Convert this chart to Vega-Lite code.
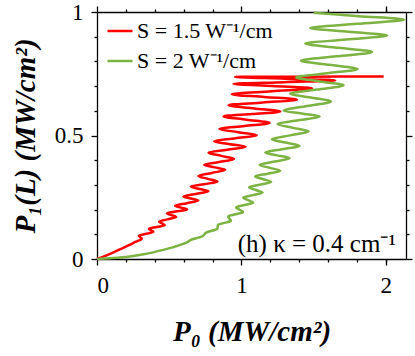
{
  "$schema": "https://vega.github.io/schema/vega-lite/v6.json",
  "width": 309,
  "height": 247,
  "autosize": {"type": "none"},
  "padding": {"left": 97, "top": 12, "right": 9, "bottom": 97},
  "background": "white",
  "config": {
    "view": {"stroke": null},
    "axis": {"domainColor": "black", "domainWidth": 1.3, "tickColor": "black", "tickWidth": 1.3, "grid": false,
             "labelFont": "Liberation Serif", "labelFontSize": 23, "labelColor": "black",
             "titleFont": "Liberation Serif", "titleFontSize": 29, "titleColor": "black", "titleFontWeight": "bold", "titleFontStyle": "italic"}
  },
  "datasets": {
    "curves": [
      {"series": "S = 1.5 W⁻¹/cm", "i": 0, "x": 0, "y": 0},
      {"series": "S = 1.5 W⁻¹/cm", "i": 1, "x": 0.062, "y": 0.014},
      {"series": "S = 1.5 W⁻¹/cm", "i": 2, "x": 0.125, "y": 0.030},
      {"series": "S = 1.5 W⁻¹/cm", "i": 3, "x": 0.175, "y": 0.043},
      {"series": "S = 1.5 W⁻¹/cm", "i": 4, "x": 0.225, "y": 0.057},
      {"series": "S = 1.5 W⁻¹/cm", "i": 5, "x": 0.265, "y": 0.069},
      {"series": "S = 1.5 W⁻¹/cm", "i": 6, "x": 0.310, "y": 0.082},
      {"series": "S = 1.5 W⁻¹/cm", "i": 7, "x": 0.300, "y": 0.088},
      {"series": "S = 1.5 W⁻¹/cm", "i": 8, "x": 0.290, "y": 0.094},
      {"series": "S = 1.5 W⁻¹/cm", "i": 9, "x": 0.340, "y": 0.102},
      {"series": "S = 1.5 W⁻¹/cm", "i": 10, "x": 0.390, "y": 0.110},
      {"series": "S = 1.5 W⁻¹/cm", "i": 11, "x": 0.375, "y": 0.116},
      {"series": "S = 1.5 W⁻¹/cm", "i": 12, "x": 0.360, "y": 0.122},
      {"series": "S = 1.5 W⁻¹/cm", "i": 13, "x": 0.415, "y": 0.1295},
      {"series": "S = 1.5 W⁻¹/cm", "i": 14, "x": 0.470, "y": 0.137},
      {"series": "S = 1.5 W⁻¹/cm", "i": 15, "x": 0.450, "y": 0.144},
      {"series": "S = 1.5 W⁻¹/cm", "i": 16, "x": 0.430, "y": 0.151},
      {"series": "S = 1.5 W⁻¹/cm", "i": 17, "x": 0.489, "y": 0.1605},
      {"series": "S = 1.5 W⁻¹/cm", "i": 18, "x": 0.548, "y": 0.170},
      {"series": "S = 1.5 W⁻¹/cm", "i": 19, "x": 0.5165, "y": 0.1775},
      {"series": "S = 1.5 W⁻¹/cm", "i": 20, "x": 0.485, "y": 0.185},
      {"series": "S = 1.5 W⁻¹/cm", "i": 21, "x": 0.5545, "y": 0.193},
      {"series": "S = 1.5 W⁻¹/cm", "i": 22, "x": 0.624, "y": 0.201},
      {"series": "S = 1.5 W⁻¹/cm", "i": 23, "x": 0.5825, "y": 0.208},
      {"series": "S = 1.5 W⁻¹/cm", "i": 24, "x": 0.541, "y": 0.215},
      {"series": "S = 1.5 W⁻¹/cm", "i": 25, "x": 0.6215, "y": 0.226},
      {"series": "S = 1.5 W⁻¹/cm", "i": 26, "x": 0.702, "y": 0.237},
      {"series": "S = 1.5 W⁻¹/cm", "i": 27, "x": 0.650, "y": 0.245},
      {"series": "S = 1.5 W⁻¹/cm", "i": 28, "x": 0.598, "y": 0.253},
      {"series": "S = 1.5 W⁻¹/cm", "i": 29, "x": 0.685, "y": 0.2635},
      {"series": "S = 1.5 W⁻¹/cm", "i": 30, "x": 0.772, "y": 0.274},
      {"series": "S = 1.5 W⁻¹/cm", "i": 31, "x": 0.711, "y": 0.2835},
      {"series": "S = 1.5 W⁻¹/cm", "i": 32, "x": 0.650, "y": 0.293},
      {"series": "S = 1.5 W⁻¹/cm", "i": 33, "x": 0.742, "y": 0.303},
      {"series": "S = 1.5 W⁻¹/cm", "i": 34, "x": 0.834, "y": 0.313},
      {"series": "S = 1.5 W⁻¹/cm", "i": 35, "x": 0.768, "y": 0.3245},
      {"series": "S = 1.5 W⁻¹/cm", "i": 36, "x": 0.702, "y": 0.336},
      {"series": "S = 1.5 W⁻¹/cm", "i": 37, "x": 0.795, "y": 0.3485},
      {"series": "S = 1.5 W⁻¹/cm", "i": 38, "x": 0.888, "y": 0.361},
      {"series": "S = 1.5 W⁻¹/cm", "i": 39, "x": 0.815, "y": 0.371},
      {"series": "S = 1.5 W⁻¹/cm", "i": 40, "x": 0.742, "y": 0.381},
      {"series": "S = 1.5 W⁻¹/cm", "i": 41, "x": 0.846, "y": 0.393},
      {"series": "S = 1.5 W⁻¹/cm", "i": 42, "x": 0.950, "y": 0.405},
      {"series": "S = 1.5 W⁻¹/cm", "i": 43, "x": 0.861, "y": 0.4175},
      {"series": "S = 1.5 W⁻¹/cm", "i": 44, "x": 0.772, "y": 0.430},
      {"series": "S = 1.5 W⁻¹/cm", "i": 45, "x": 0.901, "y": 0.442},
      {"series": "S = 1.5 W⁻¹/cm", "i": 46, "x": 1.030, "y": 0.454},
      {"series": "S = 1.5 W⁻¹/cm", "i": 47, "x": 0.9205, "y": 0.465},
      {"series": "S = 1.5 W⁻¹/cm", "i": 48, "x": 0.811, "y": 0.476},
      {"series": "S = 1.5 W⁻¹/cm", "i": 49, "x": 0.959, "y": 0.4885},
      {"series": "S = 1.5 W⁻¹/cm", "i": 50, "x": 1.107, "y": 0.501},
      {"series": "S = 1.5 W⁻¹/cm", "i": 51, "x": 0.9775, "y": 0.5135},
      {"series": "S = 1.5 W⁻¹/cm", "i": 52, "x": 0.848, "y": 0.526},
      {"series": "S = 1.5 W⁻¹/cm", "i": 53, "x": 1.0215, "y": 0.5385},
      {"series": "S = 1.5 W⁻¹/cm", "i": 54, "x": 1.195, "y": 0.551},
      {"series": "S = 1.5 W⁻¹/cm", "i": 55, "x": 1.0355, "y": 0.564},
      {"series": "S = 1.5 W⁻¹/cm", "i": 56, "x": 0.876, "y": 0.577},
      {"series": "S = 1.5 W⁻¹/cm", "i": 57, "x": 1.0725, "y": 0.587},
      {"series": "S = 1.5 W⁻¹/cm", "i": 58, "x": 1.269, "y": 0.597},
      {"series": "S = 1.5 W⁻¹/cm", "i": 59, "x": 1.090, "y": 0.6095},
      {"series": "S = 1.5 W⁻¹/cm", "i": 60, "x": 0.911, "y": 0.622},
      {"series": "S = 1.5 W⁻¹/cm", "i": 61, "x": 1.148, "y": 0.6335},
      {"series": "S = 1.5 W⁻¹/cm", "i": 62, "x": 1.385, "y": 0.645},
      {"series": "S = 1.5 W⁻¹/cm", "i": 63, "x": 1.1595, "y": 0.656},
      {"series": "S = 1.5 W⁻¹/cm", "i": 64, "x": 0.934, "y": 0.667},
      {"series": "S = 1.5 W⁻¹/cm", "i": 65, "x": 1.2115, "y": 0.679},
      {"series": "S = 1.5 W⁻¹/cm", "i": 66, "x": 1.489, "y": 0.691},
      {"series": "S = 1.5 W⁻¹/cm", "i": 67, "x": 1.217, "y": 0.700},
      {"series": "S = 1.5 W⁻¹/cm", "i": 68, "x": 0.945, "y": 0.709},
      {"series": "S = 1.5 W⁻¹/cm", "i": 69, "x": 1.2975, "y": 0.716},
      {"series": "S = 1.5 W⁻¹/cm", "i": 70, "x": 1.650, "y": 0.723},
      {"series": "S = 1.5 W⁻¹/cm", "i": 71, "x": 1.3035, "y": 0.730},
      {"series": "S = 1.5 W⁻¹/cm", "i": 72, "x": 0.957, "y": 0.737},
      {"series": "S = 1.5 W⁻¹/cm", "i": 73, "x": 1.471, "y": 0.738},
      {"series": "S = 1.5 W⁻¹/cm", "i": 74, "x": 1.985, "y": 0.739},
      {"series": "S = 2 W⁻¹/cm", "i": 0, "x": 0, "y": 0},
      {"series": "S = 2 W⁻¹/cm", "i": 1, "x": 0.090, "y": 0.003},
      {"series": "S = 2 W⁻¹/cm", "i": 2, "x": 0.215, "y": 0.009},
      {"series": "S = 2 W⁻¹/cm", "i": 3, "x": 0.333, "y": 0.020},
      {"series": "S = 2 W⁻¹/cm", "i": 4, "x": 0.451, "y": 0.036},
      {"series": "S = 2 W⁻¹/cm", "i": 5, "x": 0.540, "y": 0.050},
      {"series": "S = 2 W⁻¹/cm", "i": 6, "x": 0.614, "y": 0.065},
      {"series": "S = 2 W⁻¹/cm", "i": 7, "x": 0.653, "y": 0.078},
      {"series": "S = 2 W⁻¹/cm", "i": 8, "x": 0.730, "y": 0.092},
      {"series": "S = 2 W⁻¹/cm", "i": 9, "x": 0.756, "y": 0.107},
      {"series": "S = 2 W⁻¹/cm", "i": 10, "x": 0.833, "y": 0.122},
      {"series": "S = 2 W⁻¹/cm", "i": 11, "x": 0.8355, "y": 0.130},
      {"series": "S = 2 W⁻¹/cm", "i": 12, "x": 0.838, "y": 0.138},
      {"series": "S = 2 W⁻¹/cm", "i": 13, "x": 0.8825, "y": 0.1465},
      {"series": "S = 2 W⁻¹/cm", "i": 14, "x": 0.927, "y": 0.155},
      {"series": "S = 2 W⁻¹/cm", "i": 15, "x": 0.9175, "y": 0.1635},
      {"series": "S = 2 W⁻¹/cm", "i": 16, "x": 0.908, "y": 0.172},
      {"series": "S = 2 W⁻¹/cm", "i": 17, "x": 0.960, "y": 0.181},
      {"series": "S = 2 W⁻¹/cm", "i": 18, "x": 1.012, "y": 0.190},
      {"series": "S = 2 W⁻¹/cm", "i": 19, "x": 0.9875, "y": 0.1995},
      {"series": "S = 2 W⁻¹/cm", "i": 20, "x": 0.963, "y": 0.209},
      {"series": "S = 2 W⁻¹/cm", "i": 21, "x": 1.0225, "y": 0.2185},
      {"series": "S = 2 W⁻¹/cm", "i": 22, "x": 1.082, "y": 0.228},
      {"series": "S = 2 W⁻¹/cm", "i": 23, "x": 1.0475, "y": 0.238},
      {"series": "S = 2 W⁻¹/cm", "i": 24, "x": 1.013, "y": 0.248},
      {"series": "S = 2 W⁻¹/cm", "i": 25, "x": 1.080, "y": 0.2585},
      {"series": "S = 2 W⁻¹/cm", "i": 26, "x": 1.147, "y": 0.269},
      {"series": "S = 2 W⁻¹/cm", "i": 27, "x": 1.100, "y": 0.2795},
      {"series": "S = 2 W⁻¹/cm", "i": 28, "x": 1.053, "y": 0.290},
      {"series": "S = 2 W⁻¹/cm", "i": 29, "x": 1.1295, "y": 0.301},
      {"series": "S = 2 W⁻¹/cm", "i": 30, "x": 1.206, "y": 0.312},
      {"series": "S = 2 W⁻¹/cm", "i": 31, "x": 1.1505, "y": 0.323},
      {"series": "S = 2 W⁻¹/cm", "i": 32, "x": 1.095, "y": 0.334},
      {"series": "S = 2 W⁻¹/cm", "i": 33, "x": 1.182, "y": 0.3455},
      {"series": "S = 2 W⁻¹/cm", "i": 34, "x": 1.269, "y": 0.357},
      {"series": "S = 2 W⁻¹/cm", "i": 35, "x": 1.1975, "y": 0.369},
      {"series": "S = 2 W⁻¹/cm", "i": 36, "x": 1.126, "y": 0.381},
      {"series": "S = 2 W⁻¹/cm", "i": 37, "x": 1.2295, "y": 0.3945},
      {"series": "S = 2 W⁻¹/cm", "i": 38, "x": 1.333, "y": 0.408},
      {"series": "S = 2 W⁻¹/cm", "i": 39, "x": 1.249, "y": 0.4195},
      {"series": "S = 2 W⁻¹/cm", "i": 40, "x": 1.165, "y": 0.431},
      {"series": "S = 2 W⁻¹/cm", "i": 41, "x": 1.284, "y": 0.4445},
      {"series": "S = 2 W⁻¹/cm", "i": 42, "x": 1.403, "y": 0.458},
      {"series": "S = 2 W⁻¹/cm", "i": 43, "x": 1.307, "y": 0.4715},
      {"series": "S = 2 W⁻¹/cm", "i": 44, "x": 1.211, "y": 0.485},
      {"series": "S = 2 W⁻¹/cm", "i": 45, "x": 1.338, "y": 0.5005},
      {"series": "S = 2 W⁻¹/cm", "i": 46, "x": 1.465, "y": 0.516},
      {"series": "S = 2 W⁻¹/cm", "i": 47, "x": 1.3575, "y": 0.531},
      {"series": "S = 2 W⁻¹/cm", "i": 48, "x": 1.250, "y": 0.546},
      {"series": "S = 2 W⁻¹/cm", "i": 49, "x": 1.396, "y": 0.5615},
      {"series": "S = 2 W⁻¹/cm", "i": 50, "x": 1.542, "y": 0.577},
      {"series": "S = 2 W⁻¹/cm", "i": 51, "x": 1.417, "y": 0.589},
      {"series": "S = 2 W⁻¹/cm", "i": 52, "x": 1.292, "y": 0.601},
      {"series": "S = 2 W⁻¹/cm", "i": 53, "x": 1.456, "y": 0.6195},
      {"series": "S = 2 W⁻¹/cm", "i": 54, "x": 1.620, "y": 0.638},
      {"series": "S = 2 W⁻¹/cm", "i": 55, "x": 1.479, "y": 0.6535},
      {"series": "S = 2 W⁻¹/cm", "i": 56, "x": 1.338, "y": 0.669},
      {"series": "S = 2 W⁻¹/cm", "i": 57, "x": 1.523, "y": 0.686},
      {"series": "S = 2 W⁻¹/cm", "i": 58, "x": 1.708, "y": 0.703},
      {"series": "S = 2 W⁻¹/cm", "i": 59, "x": 1.544, "y": 0.719},
      {"series": "S = 2 W⁻¹/cm", "i": 60, "x": 1.380, "y": 0.735},
      {"series": "S = 2 W⁻¹/cm", "i": 61, "x": 1.5925, "y": 0.752},
      {"series": "S = 2 W⁻¹/cm", "i": 62, "x": 1.805, "y": 0.769},
      {"series": "S = 2 W⁻¹/cm", "i": 63, "x": 1.609, "y": 0.786},
      {"series": "S = 2 W⁻¹/cm", "i": 64, "x": 1.413, "y": 0.803},
      {"series": "S = 2 W⁻¹/cm", "i": 65, "x": 1.659, "y": 0.8205},
      {"series": "S = 2 W⁻¹/cm", "i": 66, "x": 1.905, "y": 0.838},
      {"series": "S = 2 W⁻¹/cm", "i": 67, "x": 1.6735, "y": 0.855},
      {"series": "S = 2 W⁻¹/cm", "i": 68, "x": 1.442, "y": 0.872},
      {"series": "S = 2 W⁻¹/cm", "i": 69, "x": 1.7255, "y": 0.8885},
      {"series": "S = 2 W⁻¹/cm", "i": 70, "x": 2.009, "y": 0.905},
      {"series": "S = 2 W⁻¹/cm", "i": 71, "x": 1.743, "y": 0.920},
      {"series": "S = 2 W⁻¹/cm", "i": 72, "x": 1.477, "y": 0.935},
      {"series": "S = 2 W⁻¹/cm", "i": 73, "x": 1.8025, "y": 0.952},
      {"series": "S = 2 W⁻¹/cm", "i": 74, "x": 2.128, "y": 0.969},
      {"series": "S = 2 W⁻¹/cm", "i": 75, "x": 1.814, "y": 0.983},
      {"series": "S = 2 W⁻¹/cm", "i": 76, "x": 1.500, "y": 0.997}
    ],
    "note": [{"label": "(h) κ = 0.4 cm⁻¹", "x": 2.07, "y": 0.028}]
  },
  "resolve": {"axis": {"x": "independent", "y": "independent"}},
  "layer": [
    {
      "data": {"name": "curves"},
      "mark": {"type": "line", "interpolate": "catmull-rom", "strokeWidth": 2.5},
      "encoding": {
        "x": {"field": "x", "type": "quantitative", "scale": {"domain": [0, 2.14], "nice": false, "zero": false},
              "axis": {"orient": "bottom", "values": [0, 1, 2], "format": "d", "tickSize": 6, "labelPadding": 9, "title": "P₀ (MW/cm²)", "titlePadding": 20}},
        "y": {"field": "y", "type": "quantitative", "scale": {"domain": [0, 1], "nice": false, "zero": false},
              "axis": {"orient": "left", "values": [0, 0.5, 1], "format": "~g", "tickSize": 6, "labelPadding": 8, "title": "P₁(L) (MW/cm²)", "titleFontSize": 29, "titlePadding": 14}},
        "color": {"field": "series", "type": "nominal", "sort": ["S = 1.5 W⁻¹/cm", "S = 2 W⁻¹/cm"],
                  "scale": {"domain": ["S = 1.5 W⁻¹/cm", "S = 2 W⁻¹/cm"], "range": ["#ff0000", "#7cb342"]},
                  "legend": {"orient": "none", "legendX": 9, "legendY": 5, "title": null, "symbolType": "stroke", "symbolSize": 625, "symbolStrokeWidth": 2.5,
                             "labelFont": "Liberation Serif", "labelFontSize": 22, "labelColor": "black", "labelOffset": 3, "rowPadding": 5}},
        "order": {"field": "i", "type": "quantitative"}
      }
    },
    {
      "data": {"name": "note"},
      "mark": {"type": "text", "align": "right", "baseline": "alphabetic", "font": "Liberation Serif", "fontSize": 25, "color": "black"},
      "encoding": {
        "x": {"field": "x", "type": "quantitative", "axis": {"orient": "top", "values": [0, 1, 2], "tickSize": 6, "labels": false, "title": null}},
        "y": {"field": "y", "type": "quantitative", "axis": {"orient": "right", "values": [0, 0.5, 1], "tickSize": 6, "labels": false, "title": null}},
        "text": {"field": "label"}
      }
    },
    {
      "data": {"name": "note"},
      "mark": {"type": "point", "opacity": 0},
      "encoding": {
        "x": {"field": "x", "type": "quantitative", "axis": {"orient": "bottom", "values": [0.2, 0.4, 0.6, 0.8, 1.2, 1.4, 1.6, 1.8, 2.0], "tickSize": 3, "labels": false, "title": null, "domain": false}},
        "y": {"field": "y", "type": "quantitative", "axis": {"orient": "left", "values": [0.1, 0.2, 0.3, 0.4, 0.6, 0.7, 0.8, 0.9], "tickSize": 3, "labels": false, "title": null, "domain": false}}
      }
    },
    {
      "data": {"name": "note"},
      "mark": {"type": "point", "opacity": 0},
      "encoding": {
        "x": {"field": "x", "type": "quantitative", "axis": {"orient": "top", "values": [0.2, 0.4, 0.6, 0.8, 1.2, 1.4, 1.6, 1.8, 2.0], "tickSize": 3, "labels": false, "title": null, "domain": false}},
        "y": {"field": "y", "type": "quantitative", "axis": {"orient": "right", "values": [0.1, 0.2, 0.3, 0.4, 0.6, 0.7, 0.8, 0.9], "tickSize": 3, "labels": false, "title": null, "domain": false}}
      }
    }
  ]
}
